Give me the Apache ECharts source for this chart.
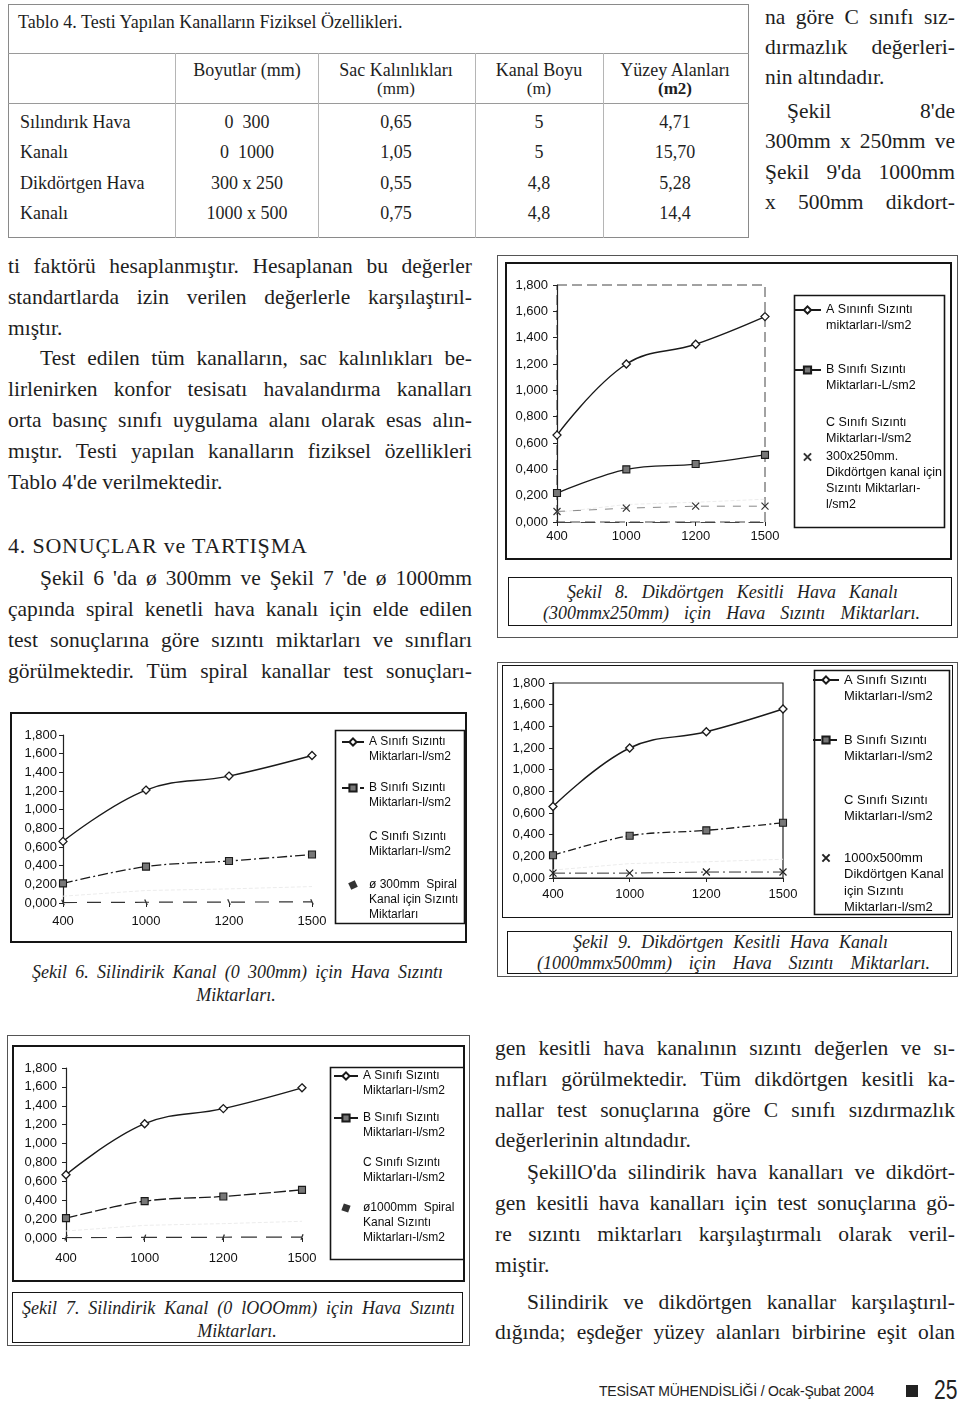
<!DOCTYPE html>
<html><head><meta charset="utf-8">
<script src="https://cdn.jsdelivr.net/npm/echarts@6/dist/echarts.min.js"></script>
<style>
html,body{margin:0;padding:0;background:#fff;}
#page{position:relative;width:960px;height:1402px;overflow:hidden;font-family:'Liberation Serif','Times New Roman',serif;color:#1e1e1e;}
.ln{position:absolute;white-space:pre;}
.box{position:absolute;box-sizing:border-box;}
.chart{position:absolute;}
</style></head><body><div id="page"></div>
<script>
// ---------------- DATA ----------------
const xCats = ['400', '1000', '1200', '1500'];

// Şekil 6 – ø300mm spiral
const fig6A = [0.66, 1.21, 1.36, 1.58];
const fig6B = [0.21, 0.39, 0.45, 0.52];
const fig6C = [0.073, 0.134, 0.151, 0.176];
const fig6D = [0.005, 0.008, 0.010, 0.012];
// Şekil 7 – ø1000mm spiral
const fig7A = [0.67, 1.21, 1.37, 1.59];
const fig7B = [0.21, 0.39, 0.44, 0.51];
const fig7C = [0.074, 0.134, 0.152, 0.177];
const fig7D = [0.004, 0.006, 0.008, 0.010];
// Şekil 8 – 300x250mm rectangular
const fig8A = [0.66, 1.20, 1.35, 1.56];
const fig8B = [0.22, 0.40, 0.44, 0.51];
const fig8C = [0.073, 0.133, 0.150, 0.173];
const fig8D = [0.08, 0.105, 0.12, 0.12];
// Şekil 9 – 1000x500mm rectangular
const fig9A = [0.66, 1.20, 1.35, 1.56];
const fig9B = [0.21, 0.39, 0.44, 0.51];
const fig9C = [0.073, 0.133, 0.150, 0.173];
const fig9D = [0.045, 0.045, 0.055, 0.055];

// Tablo 4
const tblTitle = 'Tablo 4. Testi Yapılan Kanalların Fiziksel Özellikleri.';
const tblHead1 = ['Boyutlar (mm)', 'Sac Kalınlıkları', 'Kanal Boyu', 'Yüzey Alanları'];
const tblHead2 = ['', '(mm)', '(m)', '(m2)'];
const tblRowLabels = ['Sılındırık Hava', 'Kanalı', 'Dikdörtgen Hava', 'Kanalı'];
const tblBoyut = ['0  300', '0  1000', '300 x 250', '1000 x 500'];
const tblSac = ['0,65', '1,05', '0,55', '0,75'];
const tblBoy = ['5', '5', '4,8', '4,8'];
const tblYuzey = ['4,71', '15,70', '5,28', '14,4'];

// Body text (text, justify, indent)
const textTopRight = [
  ['na göre C sınıfı sız-', 1, 0],
  ['dırmazlık değerleri-', 1, 0],
  ['nin altındadır.', 0, 0],
  ["Şekil 8'de", 1, 22],
  ['300mm x 250mm ve', 1, 0],
  ["Şekil 9'da 1000mm", 1, 0],
  ['x 500mm dikdort-', 1, 0]
];
const textLeft = [
  ['ti faktörü hesaplanmıştır. Hesaplanan bu değerler', 1, 0],
  ['standartlarda izin verilen değerlerle karşılaştırıl-', 1, 0],
  ['mıştır.', 0, 0],
  ['Test edilen tüm kanalların, sac kalınlıkları be-', 1, 32],
  ['lirlenirken konfor tesisatı havalandırma kanalları', 1, 0],
  ['orta basınç sınıfı uygulama alanı olarak esas alın-', 1, 0],
  ['mıştır. Testi yapılan kanalların fiziksel özellikleri', 1, 0],
  ["Tablo 4'de verilmektedir.", 0, 0]
];
const heading = '4. SONUÇLAR ve TARTIŞMA';
const textLeft2 = [
  ["Şekil 6 'da ø 300mm ve Şekil 7 'de ø 1000mm", 1, 32],
  ['çapında spiral kenetli hava kanalı için elde edilen', 1, 0],
  ['test sonuçlarına göre sızıntı miktarları ve sınıfları', 1, 0],
  ['görülmektedir. Tüm spiral kanallar test sonuçları-', 1, 0]
];
const textBottomRight = [
  ['gen kesitli hava kanalının sızıntı değerlen ve sı-', 1, 0],
  ['nıfları görülmektedir. Tüm dikdörtgen kesitli ka-', 1, 0],
  ['nallar test sonuçlarına göre C sınıfı sızdırmazlık', 1, 0],
  ['değerlerinin altındadır.', 0, 0],
  ["ŞekillO'da silindirik hava kanalları ve dikdört-", 1, 32],
  ['gen kesitli hava kanalları için test sonuçlarına gö-', 1, 0],
  ['re sızıntı miktarları karşılaştırmalı olarak veril-', 1, 0],
  ['miştir.', 0, 0],
  ['Silindirik ve dikdörtgen kanallar karşılaştırıl-', 1, 32],
  ['dığında; eşdeğer yüzey alanları birbirine eşit olan', 1, 0]
];

// ---------------- HELPERS ----------------
const SERIF = "'Liberation Serif','Times New Roman',serif";
const SANS = "'Liberation Sans',Arial,sans-serif";
const page = document.getElementById('page');

function tline(x, w, y, txt, o) {
  o = o || {};
  const fs = o.fs || 21.5;
  const d = document.createElement('div');
  d.className = 'ln';
  d.textContent = txt;
  d.style.fontSize = fs + 'px';
  d.style.lineHeight = Math.round(fs * 1.2) + 'px';
  d.style.fontFamily = o.ff || SERIF;
  if (o.italic) d.style.fontStyle = 'italic';
  if (o.bold) d.style.fontWeight = 'bold';
  if (o.ls) d.style.letterSpacing = o.ls + 'px';
  if (o.color) d.style.color = o.color;
  if (o.sx) { d.style.transform = 'scaleX(' + o.sx + ')'; d.style.transformOrigin = '0 50%'; }
  page.appendChild(d);
  const r = d.getBoundingClientRect();
  d.style.top = (y - r.height / 2) + 'px';
  const ind = o.indent || 0;
  if (o.center) {
    d.style.left = (x - r.width / 2) + 'px';
  } else if (o.right) {
    d.style.left = (x - r.width) + 'px';
  } else {
    d.style.left = (x + ind) + 'px';
    if (o.j) {
      const sp = (txt.match(/ /g) || []).length;
      if (sp > 0) d.style.wordSpacing = ((w - ind - r.width) / sp) + 'px';
    }
  }
  return d;
}
function box(x, y, w, h, css) {
  const d = document.createElement('div');
  d.className = 'box';
  Object.assign(d.style, { left: x + 'px', top: y + 'px', width: w + 'px', height: h + 'px' }, css || {});
  page.appendChild(d);
  return d;
}
function paragraph(lines, x, w, ys) {
  lines.forEach((l, i) => tline(x, w, ys[i], l[0], { j: l[1], indent: l[2] }));
}

// ---------------- TABLE ----------------
box(8, 4, 741, 234, { border: '1px solid #8a8a8a' });
box(8, 53, 741, 1, { background: '#9a9a9a' });
box(8, 103, 741, 1, { background: '#9a9a9a' });
[175, 318, 475, 603].forEach(x => box(x, 53, 1, 185, { background: '#b5b5b5' }));
tline(18, 0, 22, tblTitle, { fs: 18 });
const colC = [247, 396, 539, 675];
tblHead1.forEach((t, i) => tline(colC[i], 0, 70, t, { fs: 18, center: 1 }));
tblHead2.forEach((t, i) => { if (t) tline(colC[i], 0, 89, t, { fs: 17, center: 1, bold: i === 3 }); });
const rowY = [122, 152, 183, 213];
rowY.forEach((y, r) => {
  tline(20, 0, y, tblRowLabels[r], { fs: 18 });
  tline(colC[0], 0, y, tblBoyut[r], { fs: 18, center: 1 });
  tline(colC[1], 0, y, tblSac[r], { fs: 18, center: 1 });
  tline(colC[2], 0, y, tblBoy[r], { fs: 18, center: 1 });
  tline(colC[3], 0, y, tblYuzey[r], { fs: 18, center: 1 });
});

// ---------------- BODY TEXT ----------------
paragraph(textTopRight, 765, 190, [17, 47, 77, 111, 141, 172, 202]);
paragraph(textLeft, 8, 464, [266, 297, 328, 358, 389, 420, 451, 482]);
tline(8, 0, 546, heading, { fs: 22, ls: 0.8 });
paragraph(textLeft2, 8, 464, [578, 609, 640, 671]);
paragraph(textBottomRight, 495, 460, [1048, 1079, 1110, 1140, 1172, 1203, 1234, 1265, 1302, 1332]);

// ---------------- FRAMES & CAPTIONS ----------------
// Şekil 6
box(10, 712, 457, 231, { border: '2px solid #151515' });
tline(32, 411, 972, 'Şekil 6. Silindirik Kanal (0 300mm) için Hava Sızıntı', { fs: 18, italic: 1, j: 1 });
tline(236, 0, 995, 'Miktarları.', { fs: 18, italic: 1, center: 1 });
// Şekil 7
box(7, 1035, 463, 311, { border: '1px solid #555' });
box(12, 1045, 453, 237, { border: '2px solid #151515' });
box(12, 1292, 451, 51, { border: '1.5px solid #151515' });
tline(22, 433, 1308, 'Şekil 7. Silindirik Kanal (0 lOOOmm) için Hava Sızıntı', { fs: 18, italic: 1, j: 1 });
tline(237, 0, 1331, 'Miktarları.', { fs: 18, italic: 1, center: 1 });
// Şekil 8
box(497, 255, 461, 383, { border: '1px solid #555' });
box(505, 262, 447, 298, { border: '2px solid #151515' });
box(508, 577, 444, 49, { border: '1.5px solid #151515' });
tline(567, 331, 592, 'Şekil 8. Dikdörtgen Kesitli Hava Kanalı', { fs: 18, italic: 1, j: 1 });
tline(543, 377, 613, '(300mmx250mm) için Hava Sızıntı Miktarları.', { fs: 18, italic: 1, j: 1 });
// Şekil 9
box(497, 662, 461, 315, { border: '1px solid #555' });
box(502, 665, 451, 253, { border: '1.5px solid #151515' });
box(507, 931, 445, 43, { border: '1.5px solid #151515' });
tline(573, 315, 942, 'Şekil 9. Dikdörtgen Kesitli Hava Kanalı', { fs: 18, italic: 1, j: 1 });
tline(537, 393, 963, '(1000mmx500mm) için Hava Sızıntı Miktarları.', { fs: 18, italic: 1, j: 1 });

// ---------------- FOOTER ----------------
tline(874, 0, 1391, 'TESİSAT MÜHENDİSLİĞİ / Ocak-Şubat 2004', { fs: 14, ff: SANS, right: 1, ls: -0.2, color: '#222' });
box(906, 1385, 12, 12, { background: '#222' });
tline(934, 0, 1390, '25', { fs: 27, ff: SANS, color: '#222', sx: 0.78 });

// ---------------- CHARTS ----------------
const CROSS = 'path://M0 0L10 10M10 0L0 10';
const yFmt = v => v.toFixed(3).replace('.', ',');

function makeChart(c) {
  const d = document.createElement('div');
  d.className = 'chart';
  Object.assign(d.style, { left: c.x + 'px', top: c.y + 'px', width: c.w + 'px', height: c.h + 'px' });
  page.appendChild(d);
  const chart = echarts.init(d, null, { renderer: 'canvas' });
  const LH = c.lh;
  const iconX = c.textX - c.iconW - 5;
  const legends = c.series.map(s => {
    const item = { name: s.name };
    if (s.legendHide) { item.itemStyle = { opacity: 0 }; item.lineStyle = { opacity: 0 }; }
    if (s.legendNoLine) { item.lineStyle = { opacity: 0 }; }
    const pad = '\n'.repeat(s.lines - 1);
    return {
      show: true, orient: 'vertical', left: iconX - c.x, top: s.ly - c.y - (s.lines - 0.5) * LH,
      padding: 0, itemGap: 0, itemWidth: c.iconW, itemHeight: 9, selectedMode: false,
      formatter: name => pad + name,
      textStyle: { fontFamily: SANS, fontSize: c.lfs, lineHeight: LH, color: '#0c0c0c' },
      data: [item]
    };
  });
  const option = {
    animation: false,
    grid: Object.assign({
      left: c.grid[0] - c.x, top: c.grid[1] - c.y,
      width: c.grid[2] - c.grid[0], height: c.grid[3] - c.grid[1], containLabel: false
    }, c.gridStyle || {}),
    xAxis: {
      type: 'category', data: xCats, boundaryGap: false,
      axisLine: c.xLine ? { show: true, lineStyle: c.xLine } : { show: false },
      axisTick: { show: true, length: 4, lineStyle: { color: '#222' } },
      axisLabel: { margin: c.xMargin, fontFamily: SANS, fontSize: 13, color: '#111' },
      splitLine: { show: false }
    },
    yAxis: {
      type: 'value', min: 0, max: 1.8, interval: 0.2,
      axisLine: { show: true, lineStyle: { color: '#222', width: 1.2 } },
      axisTick: { show: true, length: 4, lineStyle: { color: '#222' } },
      axisLabel: { margin: c.yMargin, fontFamily: SANS, fontSize: 13, color: '#111', formatter: yFmt },
      splitLine: { show: false }
    },
    legend: legends,
    graphic: [{
      type: 'rect', left: c.lbox[0] - c.x, top: c.lbox[1] - c.y, z: 0,
      shape: { width: c.lbox[2] - c.lbox[0], height: c.lbox[3] - c.lbox[1] },
      style: { fill: 'none', stroke: '#151515', lineWidth: 1.6 }
    }],
    series: c.series.map(s => ({
      type: 'line', name: s.name, data: s.data, smooth: s.smooth || false,
      symbol: s.symbol, symbolSize: s.size, symbolRotate: s.rot || 0,
      showSymbol: s.symbol !== 'none', silent: true, z: s.z || 3,
      lineStyle: { color: s.lc, width: s.lw, type: s.lt || 'solid' },
      itemStyle: { color: s.fill, borderColor: s.stroke, borderWidth: s.bw }
    }))
  };
  chart.setOption(option);
  return chart;
}

function classSeries(names, data, ly, lines, styles) {
  return names.map((n, i) => Object.assign({ name: n, data: data[i], ly: ly[i], lines: lines[i] }, styles[i]));
}
const styleA = { smooth: 0.4, symbol: 'diamond', size: 8, lc: '#1a1a1a', lw: 1.4, fill: '#fff', stroke: '#1a1a1a', bw: 1.3, z: 4 };
const styleB = { smooth: 0.35, symbol: 'rect', size: 7, lc: '#1a1a1a', lw: 1.3, fill: '#777', stroke: '#1a1a1a', bw: 1.1, z: 4 };
const styleC = { symbol: 'none', lc: '#ececec', lw: 1, lt: 'dashed', legendHide: 1, z: 2 };

// Şekil 6
makeChart({
  x: 12, y: 714, w: 453, h: 227, grid: [63, 735, 312, 903],
  xMargin: 12, yMargin: 6, xLine: null, lh: 15, lfs: 12, iconW: 22, textX: 368,
  lbox: [333, 728, 462, 921],
  series: classSeries(
    ['A Sınıfı Sızıntı\nMiktarları-l/sm2', 'B Sınıfı Sızıntı\nMiktarları-l/sm2', 'C Sınıfı Sızıntı\nMiktarları-l/sm2', 'ø 300mm  Spiral\nKanal için Sızıntı\nMiktarları'],
    [fig6A, fig6B, fig6C, fig6D], [742, 788, 837, 885], [2, 2, 2, 3],
    [styleA, Object.assign({}, styleB, { lt: [10, 3, 2, 3] }), styleC,
     { symbol: 'rect', size: [1.3, 6], rot: 25, lc: '#333', lw: 1.2, lt: [14, 10], fill: '#333', stroke: '#333', bw: 0, legendNoLine: 1 }]
  )
});

// Şekil 7
makeChart({
  x: 14, y: 1047, w: 449, h: 233, grid: [66, 1068, 302, 1238],
  xMargin: 14, yMargin: 9, xLine: null, lh: 15, lfs: 12, iconW: 24, textX: 362,
  lbox: [328, 1065, 462, 1257],
  series: classSeries(
    ['A Sınıfı Sızıntı\nMiktarları-l/sm2', 'B Sınıfı Sızıntı\nMiktarları-l/sm2', 'C Sınıfı Sızıntı\nMiktarları-l/sm2', 'ø1000mm  Spiral\nKanal Sızıntı\nMiktarları-l/sm2'],
    [fig7A, fig7B, fig7C, fig7D], [1076, 1118, 1163, 1208], [2, 2, 2, 3],
    [styleA, Object.assign({}, styleB, { lt: [12, 3] }), styleC,
     { symbol: 'rect', size: [1.3, 6], rot: -20, lc: '#333', lw: 1.2, lt: [16, 9], fill: '#333', stroke: '#333', bw: 0, legendNoLine: 1 }]
  )
});

// Şekil 8
makeChart({
  x: 507, y: 264, w: 443, h: 294, grid: [557, 285, 765, 522],
  gridStyle: { show: true, borderColor: '#444', borderWidth: 1, borderType: [10, 5] },
  xMargin: 8, yMargin: 9, xLine: { color: '#444', width: 1.2, type: [14, 10] }, lh: 16, lfs: 12.5, iconW: 27, textX: 825,
  lbox: [792, 293, 942, 525],
  series: classSeries(
    ['A Sınınfı Sızıntı\nmiktarları-l/sm2', 'B Sınıfı Sızıntı\nMiktarları-L/sm2', 'C Sınıfı Sızıntı\nMiktarları-l/sm2', '300x250mm.\nDikdörtgen kanal için\nSızıntı Miktarları-\nl/sm2'],
    [fig8A, fig8B, fig8C, fig8D], [310, 370, 423, 457], [2, 2, 2, 4],
    [styleA, styleB, styleC,
     { symbol: CROSS, size: 7, lc: '#888', lw: 1, lt: [8, 8], fill: 'transparent', stroke: '#333', bw: 1.2, legendNoLine: 1 }]
  )
});

// Şekil 9
makeChart({
  x: 503, y: 666, w: 449, h: 251, grid: [553, 683, 783, 878],
  gridStyle: { show: true, borderColor: '#222', borderWidth: 1.2 },
  xMargin: 10, yMargin: 8, xLine: { color: '#222', width: 1.2 }, lh: 16.5, lfs: 13, iconW: 26, textX: 843,
  lbox: [812, 668, 947, 912],
  series: classSeries(
    ['A Sınıfı Sızıntı\nMiktarları-l/sm2', 'B Sınıfı Sızıntı\nMiktarları-l/sm2', 'C Sınıfı Sızıntı\nMiktarları-l/sm2', '1000x500mm\nDikdörtgen Kanal\niçin Sızıntı\nMiktarları-l/sm2'],
    [fig9A, fig9B, fig9C, fig9D], [680, 740, 800, 858], [2, 2, 2, 4],
    [styleA, Object.assign({}, styleB, { lt: [8, 3, 2, 3] }), styleC,
     { symbol: CROSS, size: 7, lc: '#333', lw: 1, lt: [12, 4, 2, 4], fill: 'transparent', stroke: '#222', bw: 1.2, legendNoLine: 1 }]
  )
});
</script></body></html>
